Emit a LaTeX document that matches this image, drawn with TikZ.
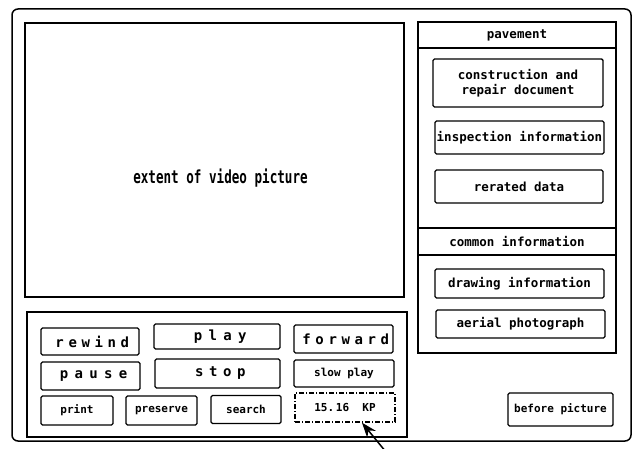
\documentclass[tikz,border=0pt]{standalone}
\usepackage{fontspec}
\usetikzlibrary{arrows.meta}
\newfontfamily\plotfont{DejaVu Sans Mono}
% letter-spaced label: #1 = extra spacing in percent of the font size
\newcommand\spaced[2]{{\addfontfeature{LetterSpace=#1}\hspace{\dimexpr #1\fontdimen6\font/100\relax}#2}}
% box from its centre, width and height (in px units)
\newcommand\bx[6]{\node[#1, minimum width=#4pt, minimum height=#5pt] (#2) at (#3) {#6};}
\tikzset{
  frame/.style={draw, line width=1.5pt, rounded corners=6pt, inner sep=0pt},
  panel/.style={draw, line width=1.4pt, inner sep=0pt},
  btn/.style={draw, line width=1.4pt, rounded corners=1.5pt, inner sep=0pt, align=center,
    font=\plotfont\bfseries\fontsize{12.5}{15}\selectfont},
  bigbtn/.style={btn, font=\plotfont\bfseries\fontsize{14}{16}\selectfont},
  smallbtn/.style={btn, font=\plotfont\bfseries\fontsize{11}{13}\selectfont},
  kpbox/.style={smallbtn, rounded corners=0pt, dash pattern=on 5pt off 2pt on 1pt off 2pt},
  caption/.style={font=\plotfont\bfseries\fontsize{12.5}{15}\selectfont, inner sep=0pt},
  pointer/.style={line width=1.5pt, -{Stealth[length=15pt, width=11pt]}},
}
\begin{document}
\begin{tikzpicture}[x=1pt, y=-1pt]
\useasboundingbox (0,0) rectangle (637,449);

% outer display frame
\bx{frame}{screen}{321.5,225}{619}{432}{}

% video area
\bx{panel}{video}{214.5,160}{379}{274}{}
\node[inner sep=0pt, font=\plotfont\bfseries\fontsize{18}{20}\selectfont] (videolabel) at (220.5,178)
  {\scalebox{0.70}[1]{extent of video picture}};

% playback controls
\bx{panel}{controls}{217,374.5}{380}{125}{}
\bx{bigbtn}{rewind}{90,341.5}{98}{27}{\spaced{33}{rewind}}
\bx{bigbtn}{play}{217,336.5}{126}{25}{\spaced{45}{play}}
\bx{bigbtn}{forward}{343.5,339}{99}{28}{\spaced{33}{forward}}
\bx{bigbtn}{pause}{90.5,376}{99}{28}{\spaced{45}{pause}}
\bx{bigbtn}{stop}{217.5,373.5}{125}{29}{\spaced{40}{stop}}
\bx{smallbtn}{slowplay}{344,373.5}{100}{27}{slow play}
\bx{smallbtn}{print}{77,410.5}{72}{29}{print}
\bx{smallbtn}{preserve}{161.5,410.5}{71}{29}{preserve}
\bx{smallbtn}{search}{246,409.5}{70}{28}{search}
\bx{kpbox}{kp}{345,407.5}{100}{29}{15.\,16\ \ KP}

% information menu
\bx{panel}{menu}{517,187.5}{198}{331}{}
\bx{panel, caption}{pavement}{517,35}{198}{26}{pavement}
\bx{btn}{construction}{518,83}{170}{48}{construction and\\repair document}
\bx{btn}{inspection}{519.5,137.5}{169}{33}{inspection information}
\bx{btn}{rerated}{519,186.5}{168}{33}{rerated data}
\bx{panel, caption}{common}{517,241.5}{198}{27}{common information}
\bx{btn}{drawing}{519.5,283.5}{169}{29}{drawing information}
\bx{btn}{aerial}{520.5,324}{169}{28}{aerial photograph}

\bx{smallbtn}{before}{560.5,409.5}{105}{33}{before picture}

% pointer to the position read-out
\coordinate (tail) at (386,452);
\draw[pointer] (tail) -- ([xshift=17pt]kp.south);
\end{tikzpicture}
\end{document}
